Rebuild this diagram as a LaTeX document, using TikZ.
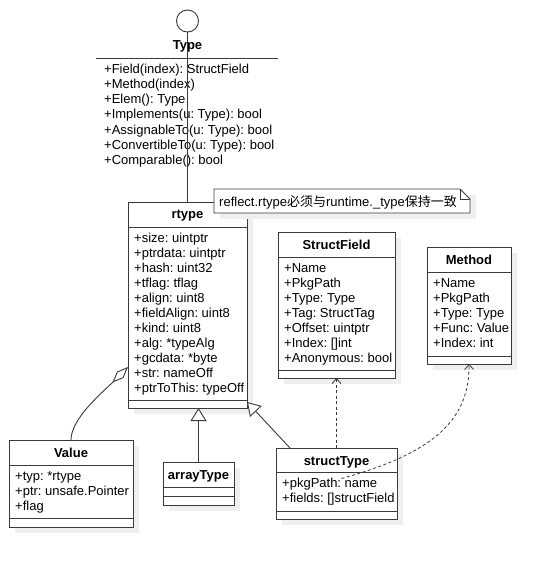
\documentclass[tikz,border=0pt]{standalone}
\usepackage{fontspec}
\setmainfont{Liberation Sans}
\newfontfamily\cjk{Noto Sans CJK SC}
\usetikzlibrary{arrows.meta,calc}
\definecolor{linegray}{HTML}{3A3A3A}
\definecolor{shadowgray}{HTML}{EFEFEF}
\tikzset{
  clsline/.style={draw=linegray, line width=0.9pt},
  clsbox/.style={clsline, fill=white, inner sep=0pt, outer sep=0pt, anchor=north west},
  shadowbox/.style={fill=shadowgray},
  titletext/.style={font=\fontsize{13}{15}\selectfont\bfseries, anchor=base, inner sep=0pt},
  attrtext/.style={font=\fontsize{13}{15}\selectfont, anchor=base west, inner sep=0pt},
  gen/.style={clsline, -{Triangle[length=13pt,width=16pt,fill=white,line width=0.9pt]}},
  dep/.style={draw=linegray, line width=0.8pt, dash pattern=on 3pt off 2.5pt, -{Straight Barb[length=5pt,width=9pt,line width=0.8pt]}},
  aggr/.style={clsline, -{Diamond[length=22pt,width=9pt,fill=white,line width=0.9pt]}}
}
% #1 name, #2 left, #3 top, #4 right, #5 bottom, #6 sep1, #7 sep2
\newcommand{\umlcls}[7]{%
  \fill[shadowbox] (#2+6,#3+6) rectangle (#4+6,#5+6);
  \node[clsbox, minimum width=#4-#2, minimum height=#5-#3] (#1) at (#2,#3) {};
  \draw[clsline] (#2,#6) -- (#4,#6);
  \draw[clsline] (#2,#7) -- (#4,#7);
}
% #1 x, #2 first baseline, #3 list
\newcommand{\umlattrs}[3]{%
  \foreach \t [count=\i from 0] in {#3} {\node[attrtext] at (#1,#2+15*\i) {\t};}
}
\frenchspacing
\begin{document}
\frenchspacing
\begin{tikzpicture}[x=1pt,y=-1pt]
\useasboundingbox (0,0) rectangle (551,567);
\fill[white] (0,0) rectangle (551,567);

% Type interface
\node[circle, clsline, fill=white, minimum size=22pt, inner sep=0pt] (iface) at (187.5,21) {};
\node[titletext] (typetitle) at (187.5,50) {Type};
\draw[clsline] (96,58) -- (278,58);
\umlattrs{104}{74}{{+Field(index): StructField},{+Method(index)},{+Elem(): Type},{+Implements(u: Type): bool},{+AssignableTo(u: Type): bool},{+ConvertibleTo(u: Type): bool},{+Comparable(): bool}}

% rtype
\umlcls{rtype}{128}{202}{247}{408}{227}{400}
\node[titletext] at (187.5,218) {rtype};
\umlattrs{134}{242}{{+size: uintptr},{+ptrdata: uintptr},{+hash: uint32},{+tflag: tflag},{+align: uint8},{+fieldAlign: uint8},{+kind: uint8},{+alg: *typeAlg},{+gcdata: *byte},{+str: nameOff},{+ptrToThis: typeOff}}

% lollipop line
\draw[clsline] (iface.south) -- (rtype.north);

% note
\fill[shadowbox] (220,195) rectangle (476,219);
\node[inner sep=0pt, outer sep=0pt, minimum width=256pt, minimum height=24pt, anchor=north west] (note) at (214,189) {};
\draw[clsline, fill=white] (note.north west) -- ($(note.north east)+(-10,0)$) -- ($(note.north east)+(0,10)$) -- (note.south east) -- (note.south west) -- cycle;
\draw[clsline] ($(note.north east)+(-10,0)$) -- ($(note.north east)+(-10,10)$) -- ($(note.north east)+(0,10)$);
\node[attrtext] at (219,206) {reflect.rtype{\cjk 必须与}runtime.\_type{\cjk 保持一致}};

% StructField
\umlcls{structfield}{278}{232}{395}{378}{257}{370}
\node[titletext] at (336.5,249) {StructField};
\umlattrs{284}{272}{{+Name},{+PkgPath},{+Type: Type},{+Tag: StructTag},{+Offset: uintptr},{+Index: []int},{+Anonymous: bool}}

% Method
\umlcls{method}{427}{247}{511}{364}{272}{356}
\node[titletext] at (469,264) {Method};
\umlattrs{433}{287}{{+Name},{+PkgPath},{+Type: Type},{+Func: Value},{+Index: int}}

% Value
\umlcls{value}{9}{440}{133}{527}{465}{518}
\node[titletext] at (71,457) {Value};
\umlattrs{15}{480}{{+typ: *rtype},{+ptr: unsafe.Pointer},{+flag}}

% arrayType
\umlcls{arraytype}{163}{462}{234}{505}{487}{496}
\node[titletext] at (198.5,479) {arrayType};

% structType
\umlcls{structtype}{276}{448}{397}{519}{472}{511}
\node[titletext] at (336.5,465) {structType};
\umlattrs{282}{487}{{+pkgPath: name},{+fields: []structField}}

% connectors
\coordinate (aggrtip) at ($(rtype.north west)+(0,165)$);
\draw[aggr] (value.north) .. controls ($(value.north)+(0,-22)$) and ($(aggrtip)+(-24,24)$) .. (aggrtip);

\draw[gen] (arraytype.north) -- (arraytype.north |- rtype.south);

\coordinate (stgen) at ($(structtype.north west)+(14,0)$);
\coordinate (rtgen) at ($(rtype.south east)+(0,-6)$);
\draw[gen] (stgen) -- (rtgen);

\draw[dep] (structtype.north) -- (structfield.south);

\coordinate (stdep) at ($(structtype.center)+(5,-5)$);
\draw[dep] (stdep) .. controls ($(stdep)+(83,-23)$) and ($(method.south)+(1,61)$) .. (method.south);
\end{tikzpicture}
\end{document}
